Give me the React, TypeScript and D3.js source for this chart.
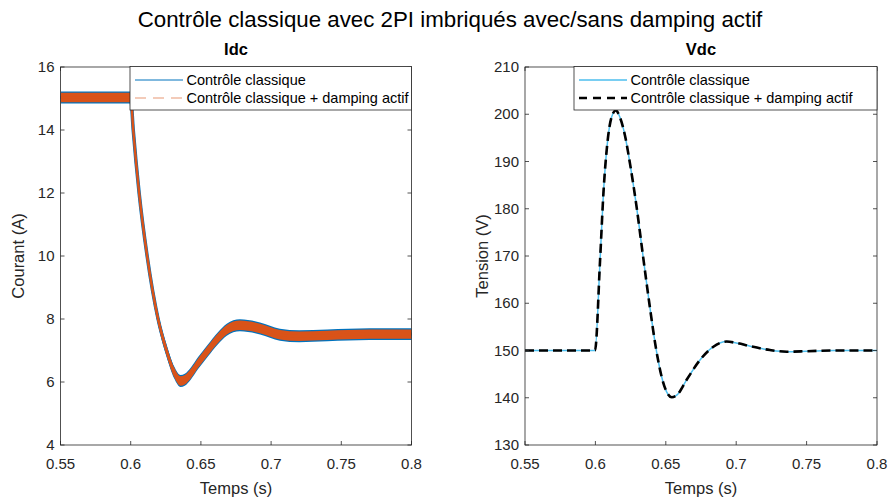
import React from "react";
import * as d3 from "d3";

// ---------- data ----------
const idcTime = [0.55, 0.6, 0.6018, 0.606, 0.6117, 0.6195, 0.6255, 0.631, 0.6355, 0.6385, 0.643, 0.648, 0.655, 0.662, 0.6684, 0.6778, 0.6921, 0.7063, 0.72, 0.74, 0.77, 0.8];
const idcClassic = [15.03, 15.03, 14.0, 12.0, 10.0, 8.0, 7.0, 6.3, 6.03, 6.07, 6.28, 6.6, 7.0, 7.38, 7.66, 7.8, 7.7, 7.5, 7.45, 7.48, 7.52, 7.52];
const idcDamping = [15.03, 15.03, 14.0, 12.0, 10.0, 8.0, 7.0, 6.3, 6.03, 6.07, 6.28, 6.6, 7.0, 7.38, 7.66, 7.8, 7.7, 7.5, 7.45, 7.48, 7.52, 7.52];
const idcNoiseClassic = 0.19;
const idcNoiseDamping = 0.15;

const vdcTime = [0.55, 0.5997, 0.6033, 0.6057, 0.6085, 0.6116, 0.6145, 0.6175, 0.621, 0.6246, 0.6292, 0.6336, 0.6383, 0.643, 0.647, 0.6505, 0.6542, 0.658, 0.6648, 0.6743, 0.6838, 0.6932, 0.7, 0.71, 0.724, 0.736, 0.75, 0.77, 0.8];
const vdcClassic = [150, 150, 169, 183.3, 193.9, 199.5, 200.8, 199.3, 195.5, 189.5, 180.5, 170.5, 160, 150.5, 144.5, 141.3, 140.1, 140.6, 143.8, 148, 150.8, 151.9, 151.6, 150.9, 150.1, 149.75, 149.85, 150, 150];
const vdcDamping = [150, 150, 169, 183.3, 193.9, 199.5, 200.8, 199.3, 195.5, 189.5, 180.5, 170.5, 160, 150.5, 144.5, 141.3, 140.1, 140.6, 143.8, 148, 150.8, 151.9, 151.6, 150.9, 150.1, 149.75, 149.85, 150, 150];

const xTicks = [0.55, 0.6, 0.65, 0.7, 0.75, 0.8];
const idcTicks = [4, 6, 8, 10, 12, 14, 16];
const vdcTicks = [130, 140, 150, 160, 170, 180, 190, 200, 210];

const seriesLabels = ["Contrôle classique", "Contrôle classique + damping actif"];
const mainTitle = "Contrôle classique avec 2PI imbriqués avec/sans damping actif";

const FONT = "'Liberation Sans', Arial, Helvetica, sans-serif";
const AX = "#262626";

type AxesProps = {
  x0: number; x1: number; y0: number; y1: number;
  yDomain: [number, number]; yTicks: number[];
  title: string; yLabel: string; yLabelX: number;
  children: (x: d3.ScaleLinear<number, number>, y: d3.ScaleLinear<number, number>) => React.ReactNode;
};

function Axes({ x0, x1, y0, y1, yDomain, yTicks, title, yLabel, yLabelX, children }: AxesProps) {
  const x = d3.scaleLinear().domain([0.55, 0.8]).range([x0, x1]);
  const y = d3.scaleLinear().domain(yDomain).range([y1, y0]);
  const tl = 4;
  const clipId = "clip" + title;
  return (
    <g>
      <defs>
        <clipPath id={clipId}>
          <rect x={x0} y={y0} width={x1 - x0} height={y1 - y0} />
        </clipPath>
      </defs>
      <g clipPath={`url(#${clipId})`}>{children(x, y)}</g>
      <rect x={x0} y={y0} width={x1 - x0} height={y1 - y0} fill="none" stroke={AX} strokeWidth={0.8} />
      {xTicks.map((t) => (
        <g key={"x" + t}>
          <line x1={x(t)} x2={x(t)} y1={y1} y2={y1 - tl} stroke={AX} strokeWidth={0.8} />
          <line x1={x(t)} x2={x(t)} y1={y0} y2={y0 + tl} stroke={AX} strokeWidth={0.8} />
          <text x={x(t)} y={469} textAnchor="middle" fontSize={15} fill={AX} fontFamily={FONT}>{String(t)}</text>
        </g>
      ))}
      {yTicks.map((t) => (
        <g key={"y" + t}>
          <line x1={x0} x2={x0 + tl} y1={y(t)} y2={y(t)} stroke={AX} strokeWidth={0.8} />
          <line x1={x1} x2={x1 - tl} y1={y(t)} y2={y(t)} stroke={AX} strokeWidth={0.8} />
          <text x={x0 - 6} y={y(t) + 5} textAnchor="end" fontSize={15} fill={AX} fontFamily={FONT}>{String(t)}</text>
        </g>
      ))}
      <text x={(x0 + x1) / 2} y={55} textAnchor="middle" fontSize={16.5} fontWeight="bold" fill="#000" fontFamily={FONT}>{title}</text>
      <text x={(x0 + x1) / 2} y={494} textAnchor="middle" fontSize={16.5} fill={AX} fontFamily={FONT}>Temps (s)</text>
      <text transform={`translate(${yLabelX},${(y0 + y1) / 2}) rotate(-90)`} textAnchor="middle" fontSize={16.5} fill={AX} fontFamily={FONT}>{yLabel}</text>
    </g>
  );
}

function Legend({ x0, x1, y0, y1, items }: { x0: number; x1: number; y0: number; y1: number; items: { label: string; stroke: string; width: number; dash?: string; opacity?: number }[] }) {
  const rows = [y0 + 13.5, y0 + 31.5];
  return (
    <g>
      <rect x={x0} y={y0} width={x1 - x0} height={y1 - y0} fill="#fff" stroke={AX} strokeWidth={0.8} />
      {items.map((it, i) => (
        <g key={i}>
          <line x1={x0 + 5} x2={x0 + 53} y1={rows[i]} y2={rows[i]} stroke={it.stroke} strokeWidth={it.width} strokeDasharray={it.dash} strokeOpacity={it.opacity ?? 1} />
          <text x={x0 + 56.5} y={rows[i] + 5} fontSize={14.5} fill="#000" fontFamily={FONT}>{it.label}</text>
        </g>
      ))}
    </g>
  );
}

export default function App() {
  const idcData = idcTime.map((t, i) => ({ t, a: idcClassic[i], b: idcDamping[i] }));
  const vdcData = vdcTime.map((t, i) => ({ t, a: vdcClassic[i], b: vdcDamping[i] }));

  return (
    <svg width={891} height={499} style={{ position: "absolute", left: 0, top: 0, background: "#fff" }}>
      <rect width={891} height={499} fill="#fff" />
      <text x={450} y={27} textAnchor="middle" fontSize={22.3} fill="#000" fontFamily={FONT}>{mainTitle}</text>

      <Axes x0={60.5} x1={411.5} y0={67} y1={445} yDomain={[4, 16]} yTicks={idcTicks} title="Idc" yLabel="Courant (A)" yLabelX={24}>
        {(x, y) => {
          const curve = d3.curveMonotoneX;
          const areaA = d3.area<any>().x((d) => x(d.t)).y0((d) => y(d.a - idcNoiseClassic)).y1((d) => y(d.a + idcNoiseClassic)).curve(curve);
          const areaB = d3.area<any>().x((d) => x(d.t)).y0((d) => y(d.b - idcNoiseDamping)).y1((d) => y(d.b + idcNoiseDamping)).curve(curve);
          const lineA = d3.line<any>().x((d) => x(d.t)).y((d) => y(d.a)).curve(curve);
          const lineB = d3.line<any>().x((d) => x(d.t)).y((d) => y(d.b)).curve(curve);
          return (
            <g>
              <path d={areaA(idcData) || ""} fill="#0072BD" />
              <path d={lineA(idcData) || ""} fill="none" stroke="#0072BD" strokeWidth={3.5} />
              <path d={areaB(idcData) || ""} fill="#D95319" />
              <path d={lineB(idcData) || ""} fill="none" stroke="#D95319" strokeWidth={2.5} />
            </g>
          );
        }}
      </Axes>

      <Axes x0={525} x1={877} y0={67} y1={445} yDomain={[130, 210]} yTicks={vdcTicks} title="Vdc" yLabel="Tension (V)" yLabelX={488}>
        {(x, y) => {
          const curve = d3.curveMonotoneX;
          const lineA = d3.line<any>().x((d) => x(d.t)).y((d) => y(d.a)).curve(curve);
          const lineB = d3.line<any>().x((d) => x(d.t)).y((d) => y(d.b)).curve(curve);
          return (
            <g>
              <path d={lineA(vdcData) || ""} fill="none" stroke="#4DBEEE" strokeWidth={1.5} />
              <path d={lineB(vdcData) || ""} fill="none" stroke="#000" strokeWidth={2.6} strokeDasharray="9,5" />
            </g>
          );
        }}
      </Axes>

      <Legend x0={130} x1={411.5} y0={66.5} y1={110} items={[
        { label: seriesLabels[0], stroke: "#0072BD", width: 1 },
        { label: seriesLabels[1], stroke: "#D95319", width: 1.2, dash: "11,7", opacity: 0.6 },
      ]} />
      <Legend x0={574} x1={877} y0={66.5} y1={110} items={[
        { label: seriesLabels[0], stroke: "#4DBEEE", width: 1.5 },
        { label: seriesLabels[1], stroke: "#000", width: 2.6, dash: "8,6" },
      ]} />
    </svg>
  );
}
